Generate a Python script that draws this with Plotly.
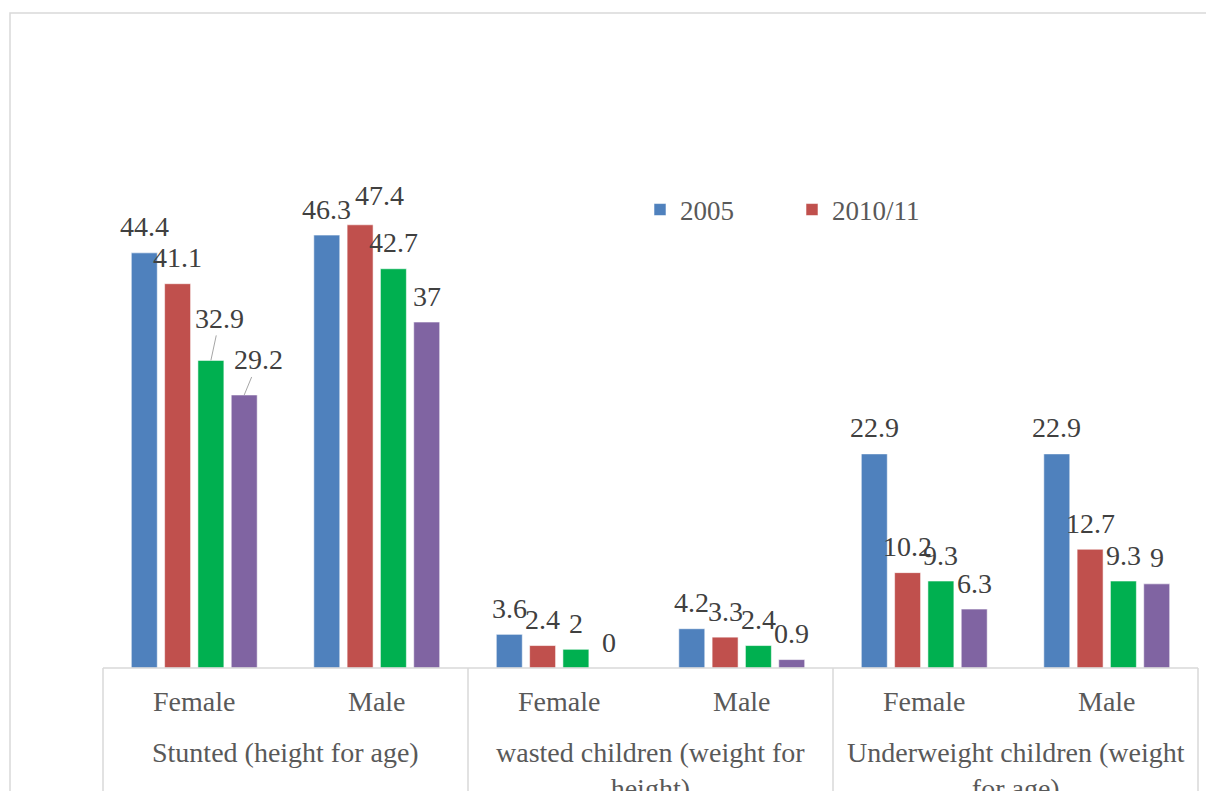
import plotly.graph_objects as go

# ---- data ----
groups = ["Stunted (height for age)", "wasted children (weight for height)",
          "Underweight children (weight for age)"]
group_labels = ["Stunted (height for age)", "wasted children (weight for<br>height)",
                "Underweight children (weight<br>for age)"]
sexes = ["Female", "Male"]
series_names = ["2005", "2010/11", "2016", "2019"]
v2005 = [44.4, 46.3, 3.6, 4.2, 22.9, 22.9]
v2010 = [41.1, 47.4, 2.4, 3.3, 10.2, 12.7]
v2016 = [32.9, 42.7, 2, 2.4, 9.3, 9.3]
v2019 = [29.2, 37, 0, 0.9, 6.3, 9]
series_values = [v2005, v2010, v2016, v2019]
legend_shown = [True, True, False, False]

# ---- style ----
colors = ["#4F81BD", "#C0504D", "#00B050", "#8064A2"]
FONT = "Liberation Serif"
LABEL_C = "#404040"
AXIS_C = "#595959"
GRID_C = "#D9D9D9"
FS = 28
FS_LEG = 27

W, H = 1206, 783
ML, MR, MT, MB = 95, 16, 22, 123
PW, PH = W - ML - MR, H - MT - MB
PX_PER_UNIT = 9.35
YMAX = PH / PX_PER_UNIT
BARGAP = 0.27
GROUPGAP = 0.22

cats = [f"{g}|{s}" for g in groups for s in sexes]
cat_px = PW / len(cats)
slot_px = cat_px * (1 - BARGAP) / len(series_values)

fig = go.Figure()
for name, vals, col, sl in zip(series_names, series_values, colors, legend_shown):
    fig.add_trace(go.Bar(
        x=cats, y=vals, name=name, showlegend=sl,
        marker=dict(color=col, line=dict(color="rgba(255,255,255,0.55)", width=1)),
        hoverinfo="skip",
    ))

# data labels (special placements: (series, category) -> (dx, dy, leader))
special = {(1, 1): (19, 3, False), (2, 0): (9, -42, True), (3, 0): (14.5, -35, True)}
annotations = []
for si, vals in enumerate(series_values):
    for ci, v in enumerate(vals):
        xs = (si - (len(series_values) - 1) / 2) * slot_px
        txt = f"{v:g}"
        sp = special.get((si, ci))
        if sp and sp[2]:
            annotations.append(dict(
                x=cats[ci], y=v, xref="x", yref="y", xshift=xs, text=txt,
                showarrow=True, arrowhead=0, arrowwidth=1, arrowcolor="#A6A6A6",
                ax=sp[0], ay=sp[1], standoff=0,
                font=dict(family=FONT, size=FS, color=LABEL_C)))
        else:
            dx, dy = (sp[0], sp[1]) if sp else (0, 0)
            annotations.append(dict(
                x=cats[ci], y=v, xref="x", yref="y", xshift=xs + dx, yshift=26 + dy,
                text=txt, showarrow=False, yanchor="middle",
                font=dict(family=FONT, size=FS, color=LABEL_C)))

# category labels
for c, s in zip(cats, [s for g in groups for s in sexes]):
    annotations.append(dict(
        x=c, y=-33 / PH, xref="x", yref="paper", text=s, showarrow=False,
        xanchor="center", yanchor="middle", font=dict(family=FONT, size=FS, color=AXIS_C)))
for gi, gl in enumerate(group_labels):
    annotations.append(dict(
        x=(gi + 0.5) / len(groups), y=-67 / PH, xref="paper", yref="paper",
        text=gl, showarrow=False, xanchor="center", yanchor="top", align="center",
        font=dict(family=FONT, size=FS, color=AXIS_C)))

shapes = []
# outer chart border
shapes.append(dict(type="rect", xref="paper", yref="paper",
                   x0=(2 - ML) / PW, x1=(W + 20 - ML) / PW,
                   y0=-(MB + 20) / PH, y1=(PH + MT - 5) / PH,
                   line=dict(color=GRID_C, width=1.5), layer="below"))
# axis line
shapes.append(dict(type="line", xref="paper", yref="paper", x0=0, x1=1, y0=0, y1=0,
                   line=dict(color=GRID_C, width=1.5)))
# group dividers
for k in range(len(groups) + 1):
    shapes.append(dict(type="line", xref="paper", yref="paper",
                       x0=k / len(groups), x1=k / len(groups),
                       y0=0, y1=-(MB + 20) / PH, line=dict(color=GRID_C, width=1.5)))

fig.update_layout(
    width=W, height=H,
    margin=dict(l=ML, r=MR, t=MT, b=MB),
    paper_bgcolor="white", plot_bgcolor="white",
    barmode="group", bargap=BARGAP, bargroupgap=GROUPGAP,
    xaxis=dict(type="category", showticklabels=False, showgrid=False,
               zeroline=False, showline=False, ticks=""),
    yaxis=dict(range=[0, YMAX], visible=False, showgrid=False),
    legend=dict(orientation="h", x=(632 - ML) / PW, y=(660 - 202) / PH,
                xanchor="left", yanchor="middle", bgcolor="rgba(0,0,0,0)",
                font=dict(family=FONT, size=FS_LEG, color=AXIS_C),
                entrywidth=107, entrywidthmode="pixels", itemwidth=30),
    annotations=annotations, shapes=shapes,
    font=dict(family=FONT),
)

fig.write_html("out.html")
